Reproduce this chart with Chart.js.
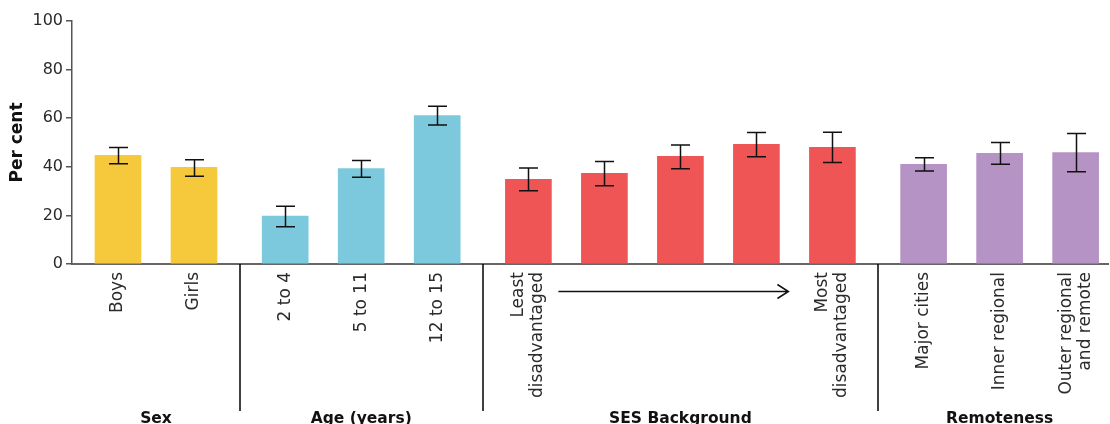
<!DOCTYPE html>
<html>
<head>
<meta charset="utf-8">
<script src="https://cdn.jsdelivr.net/npm/chart.js@4/dist/chart.umd.min.js"></script>
<style>
  html, body { margin: 0; padding: 0; background: #fff; }
  #wrap { width: 1110px; height: 424px; position: relative; }
</style>
</head>
<body>
<div id="wrap"><canvas id="c" width="1110" height="424"></canvas></div>
<script>
// Bar labels (multi-line where needed); SES quintiles 2-4 carry no label
const categories = [
  ['Boys'], ['Girls'],
  ['2 to 4'], ['5 to 11'], ['12 to 15'],
  ['Least', 'disadvantaged'], [''], [''], [''], ['Most', 'disadvantaged'],
  ['Major cities'], ['Inner regional'], ['Outer regional', 'and remote']
];
// Per cent estimate and 95% confidence bounds
const values = [44.7, 39.8, 19.7, 39.3, 61.1, 34.8, 37.3, 44.3, 49.2, 48.0, 41.0, 45.5, 45.9];
const lower  = [41.3, 36.1, 15.3, 35.7, 57.2, 30.1, 32.2, 39.2, 44.1, 41.8, 38.3, 41.0, 38.0];
const upper  = [47.9, 42.9, 23.8, 42.6, 64.9, 39.5, 42.2, 49.0, 54.1, 54.2, 43.7, 50.0, 53.7];
// Which group each bar belongs to
const groupOf = [0, 0, 1, 1, 1, 2, 2, 2, 2, 2, 3, 3, 3];
const groups = ['Sex', 'Age (years)', 'SES Background', 'Remoteness'];
const yTicks = [0, 20, 40, 60, 80, 100];

const groupColours = ['#F6C93C', '#7CC8DC', '#F05555', '#B693C5'];
const GROUP_GAP = 0.2;   // extra spacing between groups, in bar slots
const positions = values.map((v, i) => i + groupOf[i] * GROUP_GAP);

const FONT = '"DejaVu Sans", "Open Sans", sans-serif';

const overlay = {
  id: 'overlay',
  afterDatasetsDraw(chart) {
    const { ctx, scales: { x, y } } = chart;
    const base = y.getPixelForValue(0);
    ctx.save();

    // confidence interval whiskers
    ctx.strokeStyle = '#111';
    ctx.lineWidth = 1.5;
    values.forEach((v, i) => {
      const px = Math.round(x.getPixelForValue(positions[i])) + 0.5;
      const yl = y.getPixelForValue(lower[i]);
      const yh = y.getPixelForValue(upper[i]);
      ctx.beginPath();
      ctx.moveTo(px, yl); ctx.lineTo(px, yh);
      ctx.moveTo(px - 9.5, yl); ctx.lineTo(px + 9.5, yl);
      ctx.moveTo(px - 9.5, yh); ctx.lineTo(px + 9.5, yh);
      ctx.stroke();
    });

    // category labels, rotated to read upwards, hanging from the axis
    ctx.fillStyle = '#2b2b2b';
    ctx.font = '17px ' + FONT;
    ctx.textAlign = 'right';
    ctx.textBaseline = 'middle';
    const lh = 19;
    categories.forEach((lines, i) => {
      const px = x.getPixelForValue(positions[i]);
      ctx.save();
      ctx.translate(px, base + 8);
      ctx.rotate(-Math.PI / 2);
      lines.forEach((t, j) => {
        ctx.fillText(t, 0, (j - (lines.length - 1) / 2) * lh);
      });
      ctx.restore();
    });

    // group separators below the axis
    ctx.strokeStyle = '#000';
    ctx.lineWidth = 1.5;
    for (let i = 1; i < values.length; i++) {
      if (groupOf[i] !== groupOf[i - 1]) {
        const sx = Math.round((x.getPixelForValue(positions[i]) + x.getPixelForValue(positions[i - 1])) / 2);
        ctx.beginPath();
        ctx.moveTo(sx, base);
        ctx.lineTo(sx, base + 147);
        ctx.stroke();
      }
    }

    // group titles
    ctx.fillStyle = '#111';
    ctx.font = 'bold 15.5px ' + FONT;
    ctx.textAlign = 'center';
    ctx.textBaseline = 'alphabetic';
    groups.forEach((g, gi) => {
      const idx = groupOf.map((v, i) => v === gi ? i : -1).filter(i => i >= 0);
      const cx = (x.getPixelForValue(positions[idx[0]]) + x.getPixelForValue(positions[idx[idx.length - 1]])) / 2;
      ctx.fillText(g, cx, 423);
    });

    // SES gradient arrow
    const sesIdx = groupOf.map((v, i) => v === 2 ? i : -1).filter(i => i >= 0);
    const ax0 = x.getPixelForValue(positions[sesIdx[0]]) + 30;
    const ax1 = x.getPixelForValue(positions[sesIdx[sesIdx.length - 1]]) - 44;
    const ay = base + 27.5;
    ctx.strokeStyle = '#111';
    ctx.lineWidth = 1.5;
    ctx.beginPath();
    ctx.moveTo(ax0, ay); ctx.lineTo(ax1, ay);
    ctx.moveTo(ax1 - 11, ay - 7); ctx.lineTo(ax1, ay); ctx.lineTo(ax1 - 11, ay + 7);
    ctx.stroke();
    ctx.restore();
  }
};

new Chart(document.getElementById('c'), {
  type: 'bar',
  data: {
    datasets: [{
      data: values.map((v, i) => ({ x: positions[i], y: v })),
      backgroundColor: values.map((v, i) => groupColours[groupOf[i]]),
      barThickness: 46,
      borderWidth: 0
    }]
  },
  options: {
    responsive: false,
    animation: false,
    devicePixelRatio: 1,
    layout: { padding: { top: 21, right: 2, left: 0, bottom: 0 } },
    plugins: { legend: { display: false }, tooltip: { enabled: false } },
    scales: {
      x: {
        type: 'linear',
        min: -0.605,
        max: 13.026,
        offset: false,
        grid: { display: false },
        border: { display: true, color: '#666', width: 2 },
        afterBuildTicks(axis) { axis.ticks = positions.map(v => ({ value: v })); },
        afterFit(axis) { axis.height = 160; },
        ticks: { display: false }
      },
      y: {
        min: 0,
        max: 100,
        afterBuildTicks(axis) { axis.ticks = yTicks.map(v => ({ value: v })); },
        afterFit(axis) { axis.width = 72; },
        grid: { drawOnChartArea: false, drawTicks: true, tickLength: 6, color: '#555', lineWidth: 1.5 },
        border: { display: true, color: '#555', width: 1.5 },
        ticks: {
          color: '#2b2b2b',
          padding: 3,
          font: { family: FONT, size: 16 }
        },
        title: {
          display: true,
          text: 'Per cent',
          color: '#111',
          padding: { top: 7, bottom: 0 },
          font: { family: FONT, size: 17, weight: 'bold' }
        }
      }
    }
  },
  plugins: [overlay]
});
</script>
</body>
</html>
